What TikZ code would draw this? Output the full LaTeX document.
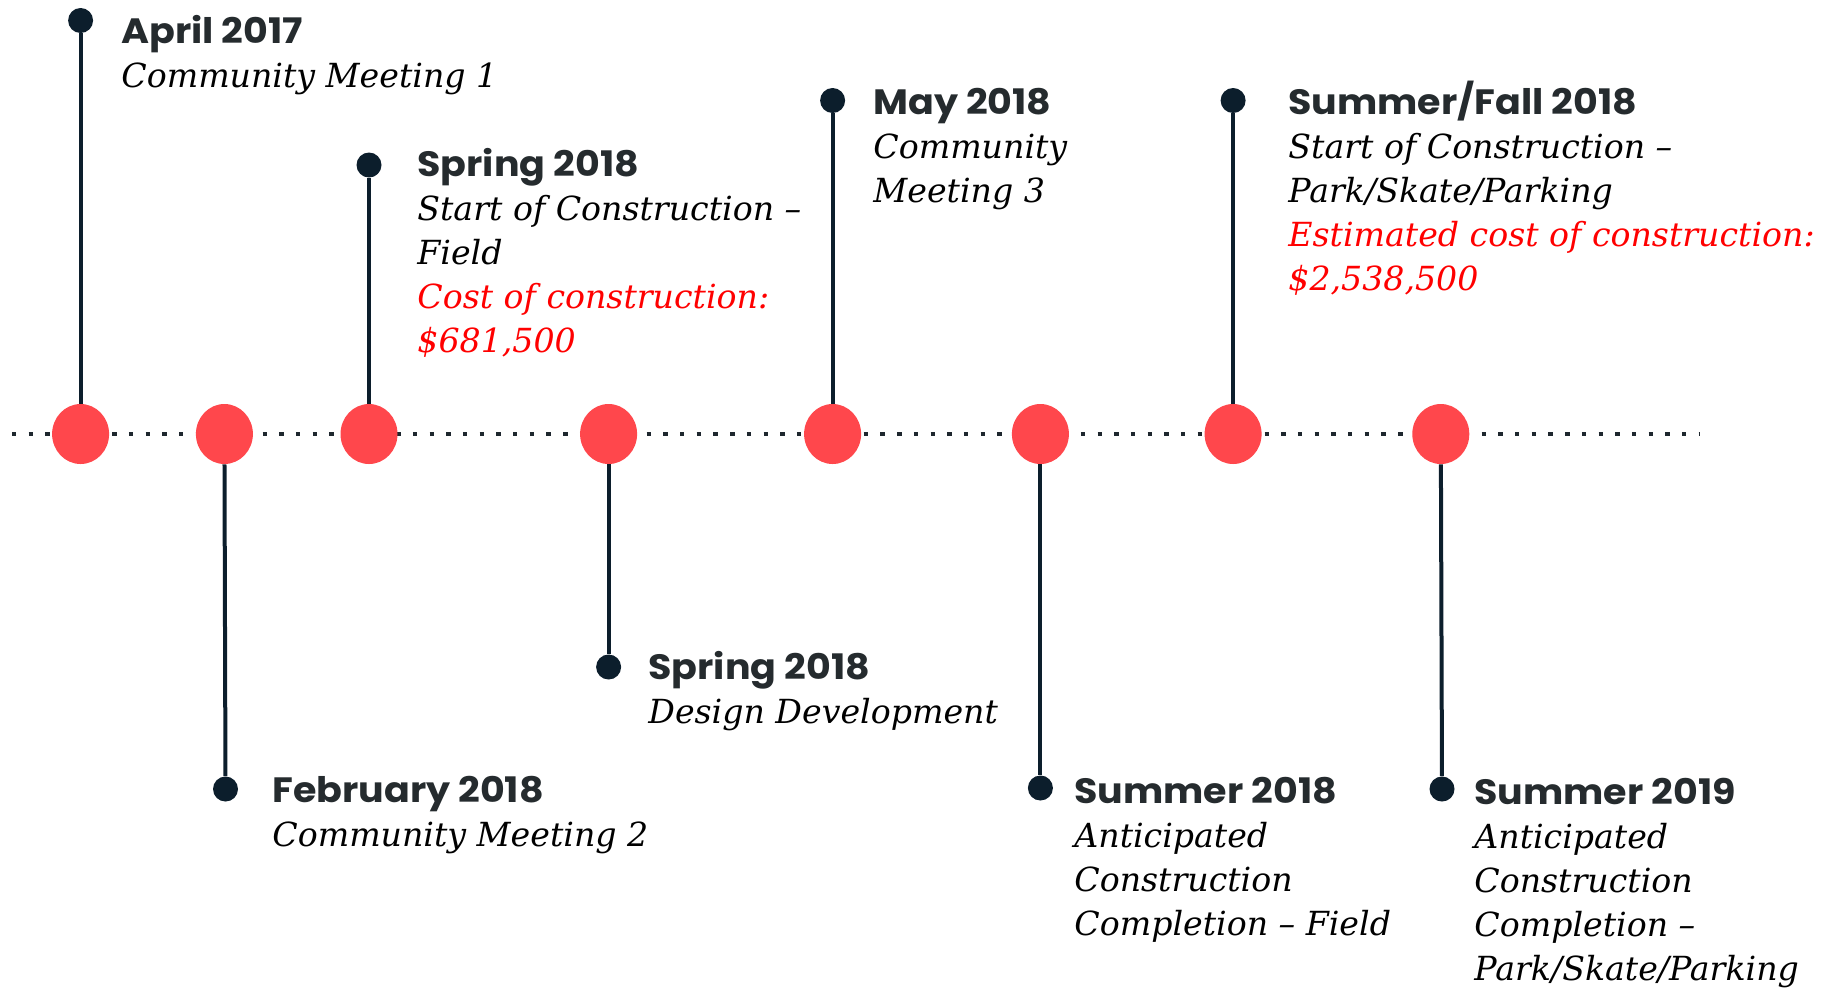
\documentclass[tikz,border=0pt]{standalone}
\usepackage{fontspec}
\usetikzlibrary{shapes.geometric}
\newfontfamily\titlefont{Poppins}[FakeStretch=1.08]
\newfontfamily\bodyfont{DejaVu Serif}
\definecolor{navy}{HTML}{0C1E2C}
\definecolor{dotred}{HTML}{FF474C}
\definecolor{ink}{HTML}{252B2E}
\definecolor{costred}{HTML}{FF0000}
\definecolor{dotline}{HTML}{1E272E}
\newcommand{\evtext}[1]{\vtop{\baselineskip=22pt\lineskiplimit=-30pt\lineskip=0pt #1}}
\newcommand{\evtitle}[1]{\hbox{\color{ink}\titlefont\bfseries\fontsize{17.6}{22}\selectfont #1}}
\newcommand{\evline}[1]{\hbox{\color{black}\bodyfont\itshape\fontsize{16.6}{22}\selectfont #1}}
\newcommand{\evcost}[1]{\hbox{\color{costred}\bodyfont\itshape\fontsize{16.6}{22}\selectfont #1}}
\tikzset{
  timeline/.style={draw=dotline, line width=2.2pt, dash pattern=on 2.2pt off 6.15pt},
  bigdot/.style={ellipse, fill=dotred, minimum width=28.5pt, minimum height=30pt, inner sep=0pt},
  smalldot/.style={circle, fill=navy, minimum size=12.5pt, inner sep=0pt},
  stem/.style={draw=navy, line width=2pt},
  evt/.style={anchor=base west, inner sep=0pt}
}
\begin{document}
\begin{tikzpicture}[x=0.5pt, y=-0.5pt]
\useasboundingbox (0,0) rectangle (1831,987);
\coordinate (L) at (12,434);
\coordinate (R) at (1699,434);
\draw[timeline] (L) -- (R);
% main circles
\node[bigdot] (c1) at (80.6,434) {};
\node[bigdot] (c2) at (224.4,434) {};
\node[bigdot] (c3) at (369,434) {};
\node[bigdot] (c4) at (608.6,434) {};
\node[bigdot] (c5) at (832.6,434) {};
\node[bigdot] (c6) at (1040.4,434) {};
\node[bigdot] (c7) at (1233.1,434) {};
\node[bigdot] (c8) at (1440.8,434) {};
% end dots
\node[smalldot] (d1) at (80.6,20.5) {};
\node[smalldot] (d2) at (225.5,789) {};
\node[smalldot] (d3) at (369,165) {};
\node[smalldot] (d4) at (608.6,667) {};
\node[smalldot] (d5) at (832.6,100.5) {};
\node[smalldot] (d6) at (1040.4,788) {};
\node[smalldot] (d7) at (1233.1,100.5) {};
\node[smalldot] (d8) at (1442,789) {};
% stems
\draw[stem] (d1) -- (c1);
\draw[stem] (c2) -- (d2);
\draw[stem] (d3) -- (c3);
\draw[stem] (c4) -- (d4);
\draw[stem] (d5) -- (c5);
\draw[stem] (c6) -- (d6);
\draw[stem] (d7) -- (c7);
\draw[stem] (c8) -- (d8);
% texts
\node[evt] (t1) at (121,43) {\evtext{\evtitle{April 2017}\evline{Community Meeting 1}}};
\node[evt] (t2) at (272,802) {\evtext{\evtitle{February 2018}\evline{Community Meeting 2}}};
\node[evt] (t3) at (417,176) {\evtext{\evtitle{Spring 2018}\evline{Start of Construction –}\evline{Field}\evcost{Cost of construction:}\evcost{\$681,500}}};
\node[evt] (t4) at (648,679) {\evtext{\evtitle{Spring 2018}\evline{Design Development}}};
\node[evt] (t5) at (873,114) {\evtext{\evtitle{May 2018}\evline{Community}\evline{Meeting 3}}};
\node[evt] (t6) at (1074,803) {\evtext{\evtitle{Summer 2018}\evline{Anticipated}\evline{Construction}\evline{Completion – Field}}};
\node[evt] (t7) at (1288,114) {\evtext{\evtitle{Summer/Fall 2018}\evline{Start of Construction –}\evline{Park/Skate/Parking}\evcost{Estimated cost of construction:}\evcost{\$2,538,500}}};
\node[evt] (t8) at (1474,804) {\evtext{\evtitle{Summer 2019}\evline{Anticipated}\evline{Construction}\evline{Completion –}\evline{Park/Skate/Parking}}};
\end{tikzpicture}
\end{document}
